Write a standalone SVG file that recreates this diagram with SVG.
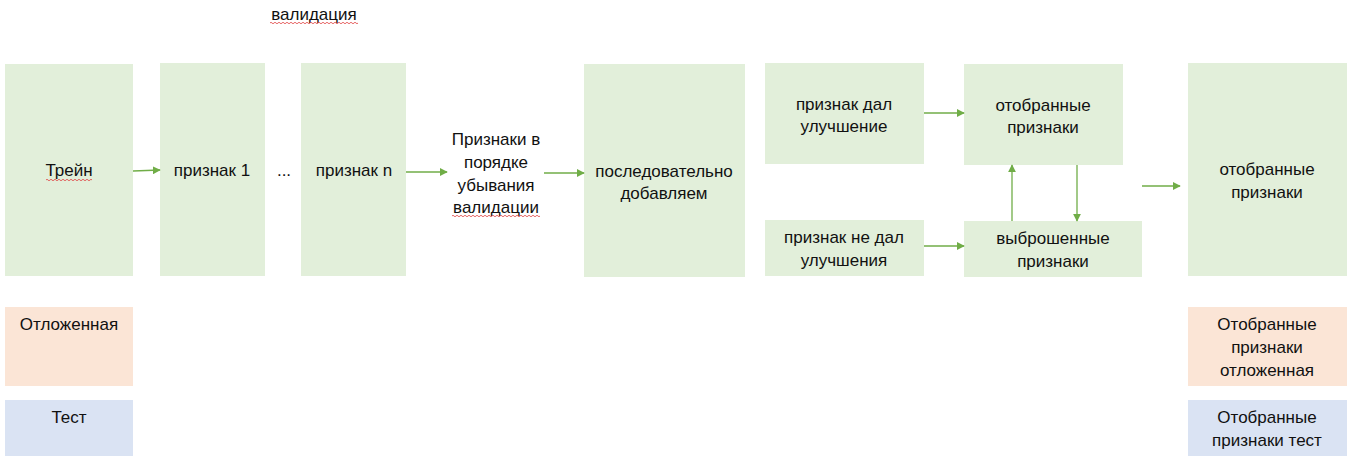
<svg xmlns="http://www.w3.org/2000/svg" width="1356" height="463" viewBox="0 0 1356 463">
<style>
.g{fill:#E2EFDA}
.o{fill:#FBE5D6}
.b{fill:#DAE3F3}
text{font-family:"Liberation Sans","Noto Sans",sans-serif;font-size:17px;fill:#111;text-anchor:middle}
.c line{stroke:#70AD47;stroke-width:1.3;marker-end:url(#ah)}
.sq{fill:none;stroke:#E04040;stroke-width:0.8}
</style>
<defs>
<marker id="ah" viewBox="0 0 10 10" refX="9" refY="5" markerWidth="8" markerHeight="8" markerUnits="userSpaceOnUse" orient="auto">
<path d="M0,0 L10,5 L0,10 Z" fill="#70AD47"/>
</marker>
</defs>
<g id="label-validation"><text x="314" y="20">валидация</text><path class="sq" d="M270,23 q1,-1.5 2,0 t2,0 t2,0 t2,0 t2,0 t2,0 t2,0 t2,0 t2,0 t2,0 t2,0 t2,0 t2,0 t2,0 t2,0 t2,0 t2,0 t2,0 t2,0 t2,0 t2,0 t2,0 t2,0 t2,0 t2,0 t2,0 t2,0 t2,0 t2,0 t2,0 t2,0 t2,0 t2,0 t2,0 t2,0 t2,0 t2,0 t2,0 t2,0 t2,0 t2,0 t2,0 t2,0 t2,0"/></g>
<g id="train"><rect class="g" x="5" y="64" width="128" height="212"/><text x="69" y="176">Трейн</text><path class="sq" d="M46,180 q1,-1.5 2,0 t2,0 t2,0 t2,0 t2,0 t2,0 t2,0 t2,0 t2,0 t2,0 t2,0 t2,0 t2,0 t2,0 t2,0 t2,0 t2,0 t2,0 t2,0 t2,0 t2,0 t2,0 t2,0"/></g>
<g id="feat1"><rect class="g" x="160" y="63" width="105" height="213"/><text x="212" y="176">признак 1</text></g>
<g id="dots"><text x="284" y="176">...</text></g>
<g id="featn"><rect class="g" x="301" y="63" width="105" height="213"/><text x="354" y="176">признак n</text></g>
<g id="sorted"><text x="496" y="145">Признаки в</text><text x="496" y="168">порядке</text><text x="496" y="191">убывания</text><text x="496" y="213">валидации</text><path class="sq" d="M452,216 q1,-1.5 2,0 t2,0 t2,0 t2,0 t2,0 t2,0 t2,0 t2,0 t2,0 t2,0 t2,0 t2,0 t2,0 t2,0 t2,0 t2,0 t2,0 t2,0 t2,0 t2,0 t2,0 t2,0 t2,0 t2,0 t2,0 t2,0 t2,0 t2,0 t2,0 t2,0 t2,0 t2,0 t2,0 t2,0 t2,0 t2,0 t2,0 t2,0 t2,0 t2,0 t2,0 t2,0 t2,0 t2,0"/></g>
<g id="seq"><rect class="g" x="584" y="64" width="161" height="213"/><text x="664" y="177">последовательно</text><text x="664" y="199">добавляем</text></g>
<g id="improved"><rect class="g" x="765" y="63" width="159" height="101"/><text x="844" y="110">признак дал</text><text x="844" y="132">улучшение</text></g>
<g id="notimproved"><rect class="g" x="765" y="220" width="159" height="56"/><text x="844" y="243">признак не дал</text><text x="844" y="266">улучшения</text></g>
<g id="selected"><rect class="g" x="964" y="64" width="159" height="101"/><text x="1043" y="111">отобранные</text><text x="1043" y="133">признаки</text></g>
<g id="dropped"><rect class="g" x="964" y="221" width="178" height="56"/><text x="1053" y="244">выброшенные</text><text x="1053" y="267">признаки</text></g>
<g id="final"><rect class="g" x="1188" y="63" width="159" height="213"/><text x="1267" y="175">отобранные</text><text x="1267" y="198">признаки</text></g>
<g id="holdout"><rect class="o" x="5" y="307" width="128" height="79"/><text x="69" y="330">Отложенная</text></g>
<g id="test"><rect class="b" x="5" y="400" width="128" height="56"/><text x="69" y="423">Тест</text></g>
<g id="final-holdout"><rect class="o" x="1188" y="307" width="159" height="79"/><text x="1267" y="330">Отобранные</text><text x="1267" y="353">признаки</text><text x="1267" y="376">отложенная</text></g>
<g id="final-test"><rect class="b" x="1188" y="400" width="159" height="56"/><text x="1267" y="423">Отобранные</text><text x="1267" y="446">признаки тест</text></g>
<g class="c" id="connectors">
<line x1="133" y1="171" x2="160" y2="170"/>
<line x1="406" y1="172" x2="447" y2="172"/>
<line x1="544" y1="173" x2="584" y2="173"/>
<line x1="924" y1="113" x2="964" y2="113"/>
<line x1="924" y1="246" x2="964" y2="246"/>
<line x1="1012" y1="221" x2="1012" y2="165"/>
<line x1="1077" y1="165" x2="1077" y2="221"/>
<line x1="1142" y1="186" x2="1180" y2="186"/>
</g>
</svg>
